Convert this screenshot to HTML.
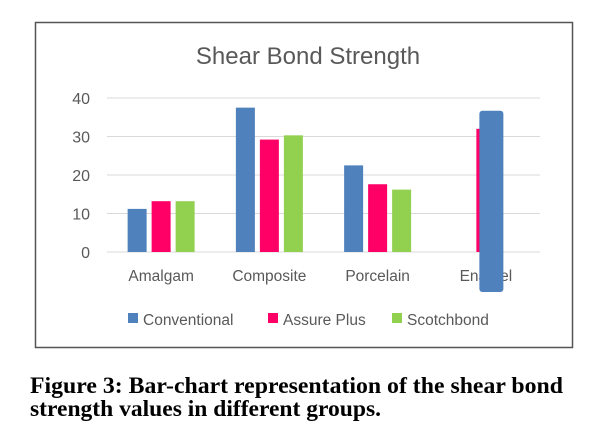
<!DOCTYPE html>
<html><head><meta charset="utf-8"><style>
body{margin:0;background:#fff;width:608px;height:437px;overflow:hidden;}
svg text{font-family:"Liberation Sans",sans-serif;}
svg text.cap{font-family:"Liberation Serif",serif;font-weight:bold;}
</style></head><body>
<svg width="608" height="437">
<rect x="35.5" y="22.5" width="537" height="325" fill="#fff" stroke="#555" stroke-width="1.5"/>
<text x="308" y="64" text-anchor="middle" font-size="24" fill="#595959">Shear Bond Strength</text>
<g id="grid"></g><g id="labels"></g><g id="bars"></g>
<g>
<g><rect x="128" y="313" width="10" height="10" fill="#4f81bd"/><text x="143" y="325" font-size="15.5" fill="#595959">Conventional</text></g>
<g><rect x="268" y="313" width="10" height="10" fill="#ff0066"/><text x="283" y="325" font-size="15.5" fill="#595959">Assure Plus</text></g>
<g><rect x="392" y="313" width="10" height="10" fill="#92d050"/><text x="407" y="325" font-size="15.5" fill="#595959">Scotchbond</text></g>
</g>
<text class="cap" x="30" y="393" font-size="23" fill="#000" textLength="533" lengthAdjust="spacingAndGlyphs">Figure 3: Bar-chart representation of the shear bond</text>
<text class="cap" x="30" y="416" font-size="23" fill="#000" textLength="351" lengthAdjust="spacingAndGlyphs">strength values in different groups.</text>
</svg>
<script>
const categories=["Amalgam","Composite","Porcelain","Enamel"];
const conventional=[11.2,37.5,22.5,36.7];
const assurePlus=[13.2,29.2,17.6,32];
const scotchbond=[13.2,30.3,16.2,null];
const yTicks=[0,10,20,30,40];
const seriesNames=["conventional","assure-plus","scotchbond"];
const colors=["#4f81bd","#ff0066","#92d050"];
const NS="http://www.w3.org/2000/svg";
const x0=107,x1=540,yBase=252,yTop=98,vMax=40;
const y=v=>yBase-(v/vMax)*(yBase-yTop);
const bw=(x1-x0)/categories.length;
const cx=i=>x0+bw*(i+0.5);
function mk(tag,attrs,parent){const e=document.createElementNS(NS,tag);for(const k in attrs)e.setAttribute(k,attrs[k]);document.getElementById(parent).appendChild(e);return e;}
yTicks.forEach(t=>{
 const l=mk("line",{x1:x0,x2:x1,y1:y(t),y2:y(t),stroke:"#d9d9d9","stroke-width":1},"grid");
 
 
 const tx=mk("text",{x:90,y:y(t)+6,"text-anchor":"end","font-size":16,fill:"#595959"},"labels");
 tx.textContent=t;
 
 
});
categories.forEach((c,i)=>{
 const tx=mk("text",{x:cx(i),y:281,"text-anchor":"middle","font-size":15.5,fill:"#595959"},"labels");
 tx.textContent=c;
 
 
});
const series=[conventional,assurePlus,scotchbond];
const barW=19,gap=5;
[1,2,0].forEach(s=>{
 series[s].forEach((v,i)=>{
  if(v==null)return;
  const bx=cx(i)+(s-1)*(barW+gap)-barW/2;
  let attrs={x:bx,y:y(v),width:barW,height:yBase-y(v),fill:colors[s]};
  if(s===0&&i===3){attrs={x:bx+27,y:y(v),width:24,height:yBase-y(v)+40,rx:3,fill:colors[s]};}
  const r=mk("rect",attrs,"bars");
  
  
 });
});
</script>
</body></html>
